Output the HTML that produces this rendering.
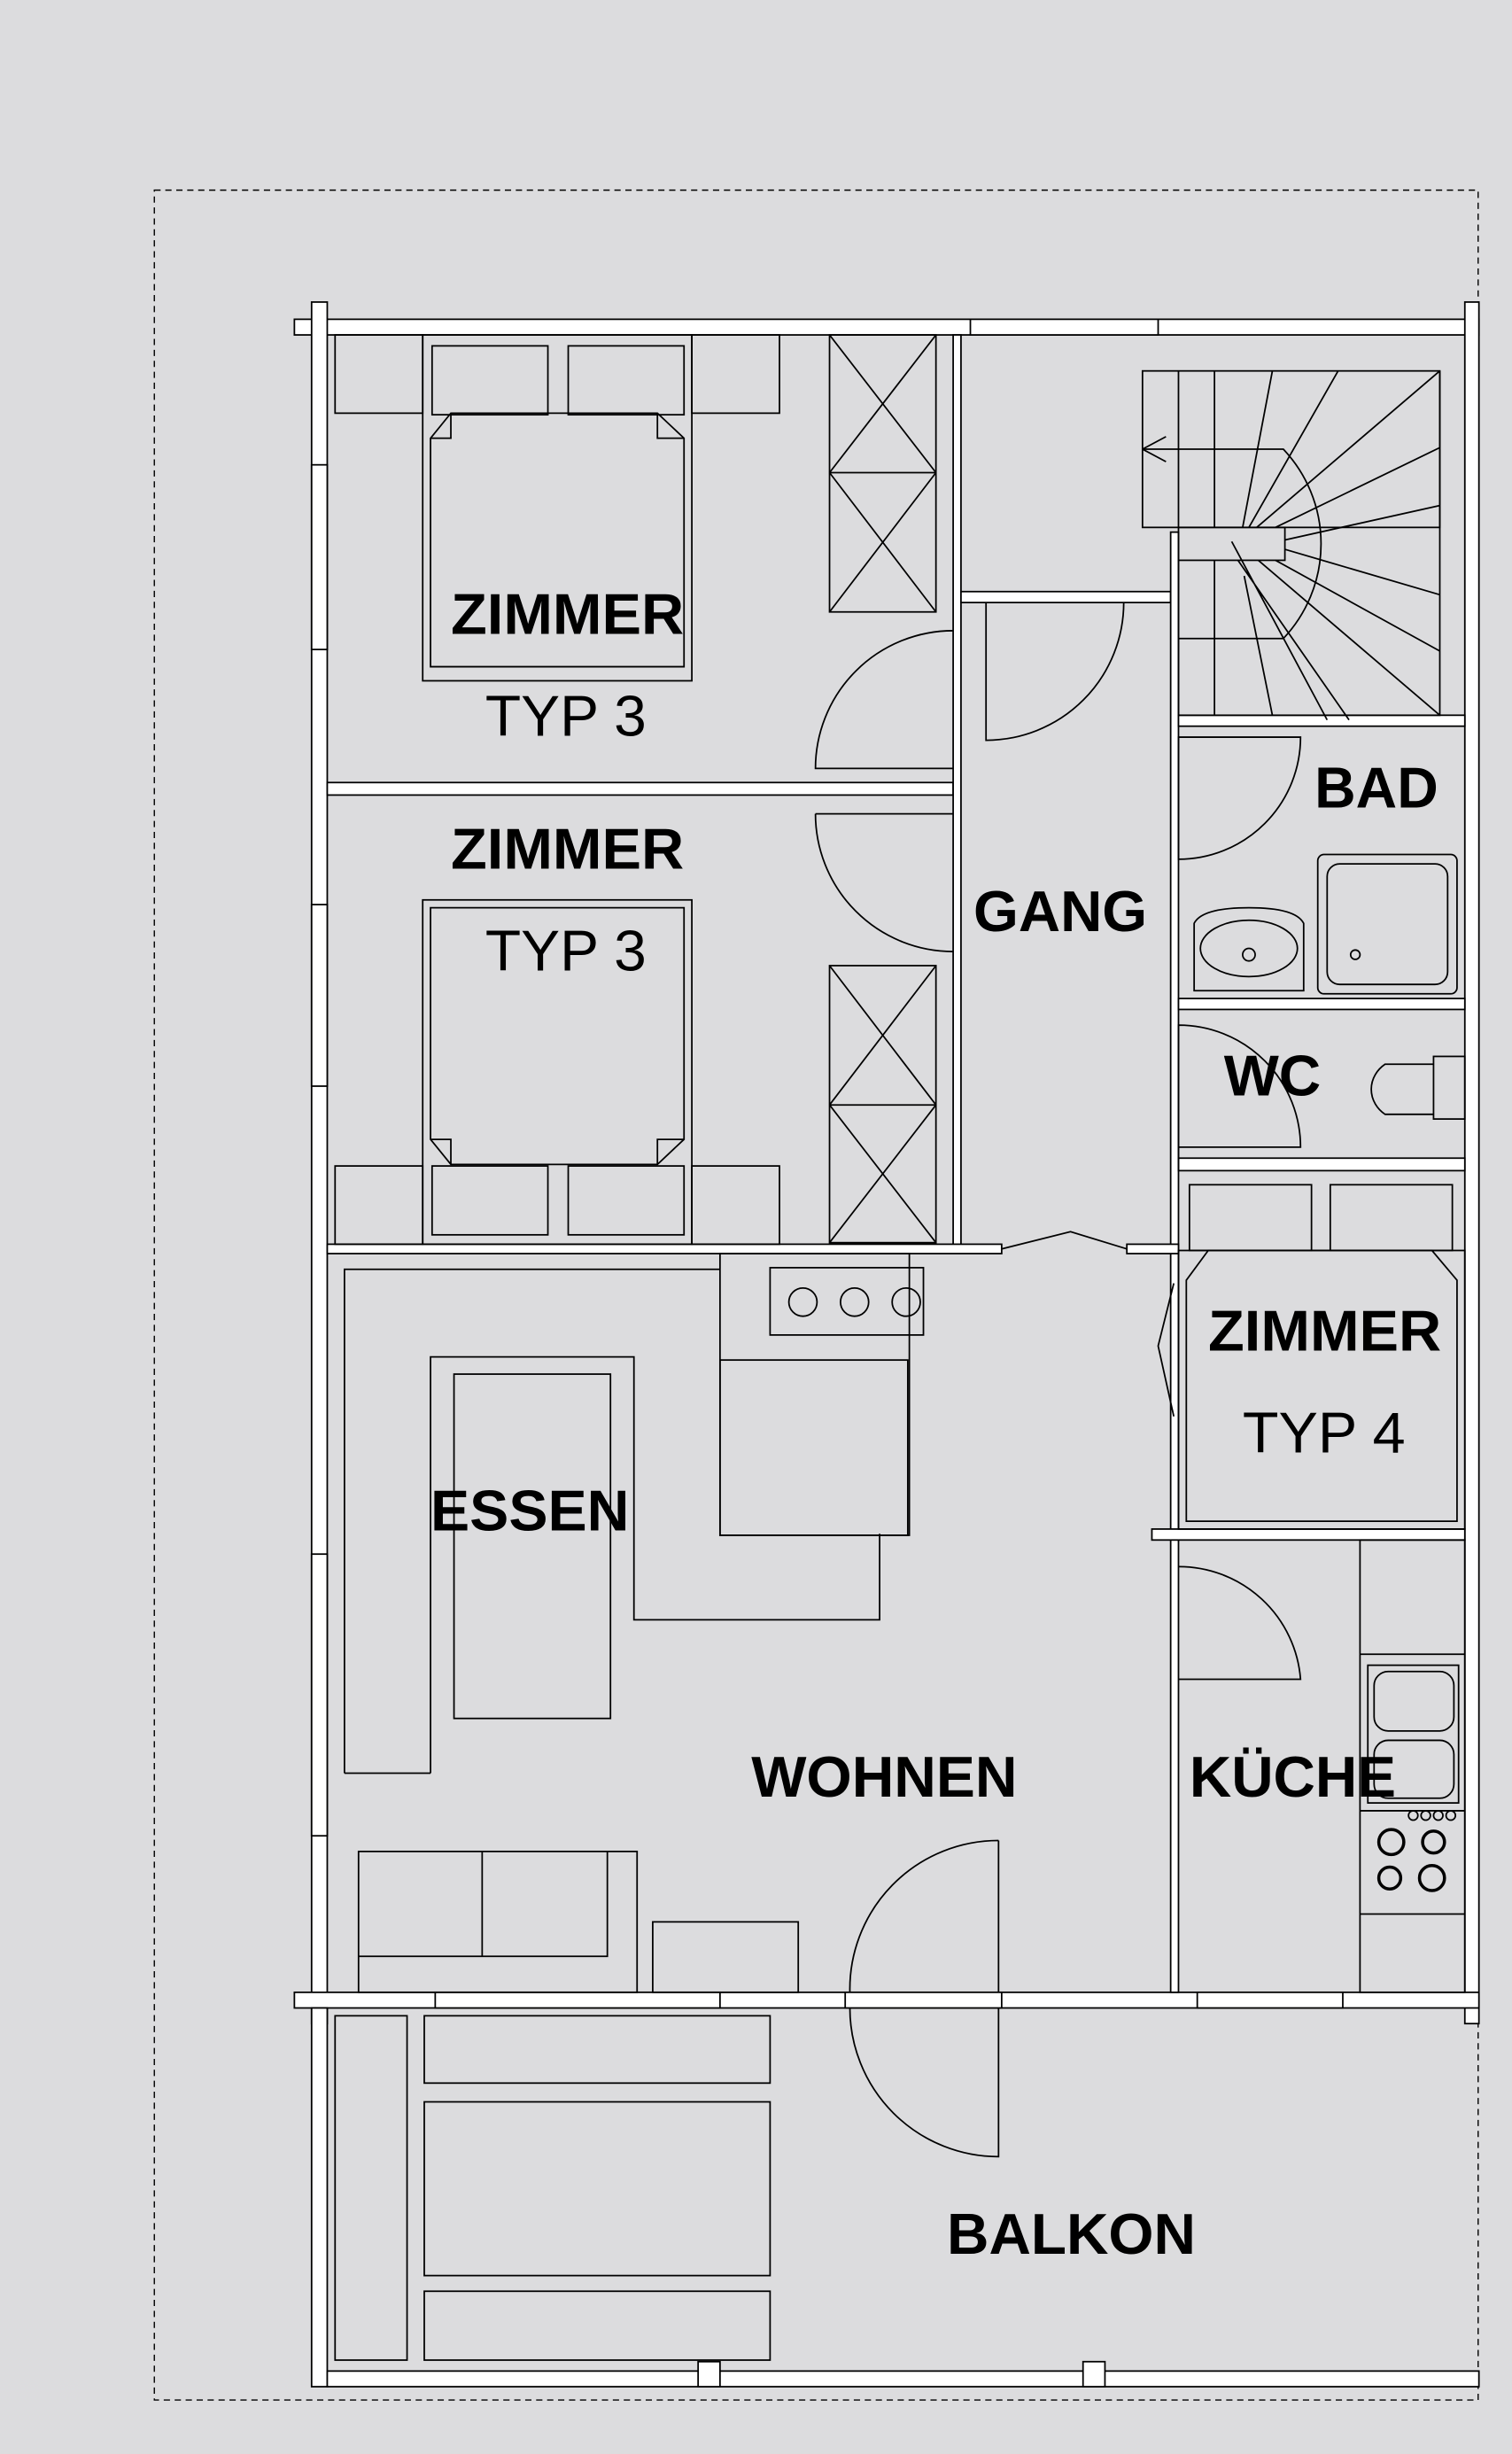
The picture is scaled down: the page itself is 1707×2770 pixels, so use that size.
<!DOCTYPE html>
<html><head><meta charset="utf-8"><style>
html,body{margin:0;padding:0;background:#dcdcde}
svg{display:block}
text{font-family:"Liberation Sans",Arial,sans-serif;fill:#000}
.b{font-weight:bold;font-size:37px}
.r{font-size:37px}
</style></head><body>
<svg width="1707" height="2770" viewBox="0 0 966 1568" xmlns="http://www.w3.org/2000/svg">
<rect width="966" height="1568" fill="#dcdcde"/>
<rect x="98.5" y="121.5" width="846" height="1412" fill="none" stroke="#000" stroke-width="0.8" stroke-dasharray="4,3"/>
<g fill="#fff" stroke="#000" stroke-width="1">
<rect x="188" y="204" width="757" height="10"/>
<rect x="199" y="193" width="10" height="1100"/>
<rect x="936" y="193" width="9" height="1100"/>
<rect x="188" y="1273" width="757" height="10"/>
<rect x="199" y="1283" width="10" height="242"/>
<rect x="209" y="1515" width="736" height="10"/>
<rect x="209" y="500" width="400" height="8"/>
<rect x="609" y="214" width="5" height="586"/>
<rect x="614" y="378" width="134" height="7"/>
<rect x="748" y="340" width="5" height="933"/>
<rect x="753" y="457" width="183" height="7"/>
<rect x="753" y="638" width="183" height="7"/>
<rect x="753" y="740" width="183" height="8"/>
<rect x="209" y="795" width="431" height="6"/>
<rect x="720" y="795" width="33" height="6"/>
<rect x="736" y="977" width="200" height="7"/>
<rect x="199" y="297" width="10" height="118"/>
<rect x="199" y="578" width="10" height="116"/>
<rect x="199" y="993" width="10" height="180"/>
<rect x="620" y="204" width="120" height="10"/>
<rect x="278" y="1273" width="182" height="10"/>
<rect x="540" y="1273" width="100" height="10"/>
<rect x="765" y="1273" width="93" height="10"/>
<rect x="446" y="1509" width="14" height="16"/>
<rect x="692" y="1509" width="14" height="16"/>
</g>
<g fill="none" stroke="#000" stroke-width="1">
<rect x="214" y="214" width="56" height="50"/>
<rect x="442" y="214" width="56" height="50"/>
<rect x="270" y="214" width="172" height="221"/>
<rect x="276" y="221" width="74" height="44"/>
<rect x="363" y="221" width="74" height="44"/>
<path d="M275 426 V280 L288 264 H420 L437 280 V426 Z M288 264 V280 H275 M420 264 V280 H437"/>
<rect x="530" y="214" width="68" height="177"/>
<path d="M530 214 L598 302 M598 214 L530 302 M530 302 H598 M530 302 L598 391 M598 302 L530 391"/>
<path d="M609 403 A88 88 0 0 0 521 491 H609"/>
<rect x="214" y="745" width="56" height="50"/>
<rect x="442" y="745" width="56" height="50"/>
<rect x="270" y="575" width="172" height="220"/>
<rect x="276" y="745" width="74" height="44"/>
<rect x="363" y="745" width="74" height="44"/>
<path d="M275 580 V728 L288 744 H420 L437 728 V580 Z M288 744 V728 H275 M420 744 V728 H437"/>
<rect x="530" y="617" width="68" height="177"/>
<path d="M530 617 L598 706 M598 617 L530 706 M530 706 H598 M530 706 L598 794 M598 706 L530 794"/>
<path d="M521 520 A88 88 0 0 0 609 608 M521 520 H609"/>
<path d="M718 385 A88 88 0 0 1 630 473 V385"/>
<path d="M640 798 L684 787 L720 798"/>
<path d="M750 820 L740 860 L750 905"/>
<rect x="730" y="237" width="190" height="100"/>
<path d="M753 237 V337 M776 237 V337 M753 358 V457 H920 V337 M776 358 V457 M920 237 V457"/>
<rect x="753" y="337" width="68" height="21"/>
<path d="M730 287 H820 A88 88 0 0 1 820 408 H753"/>
<path d="M730 287 L745 279 M730 287 L745 295"/>
<path d="M794 337 L813 237 M798 337 L855 237 M803 337 L920 237 M815 337 L920 286 M821 345 L920 323 M821 351 L920 380 M815 358 L920 416 M804 358 L920 457 M791 358 L862 460 M787 346 L848 460 M795 368 L813 457"/>
<path d="M753 471 H831 A78 78 0 0 1 753 549 Z"/>
<rect x="842" y="546" width="89" height="89" rx="4"/>
<rect x="848" y="552" width="77" height="77" rx="8"/>
<circle cx="866" cy="610" r="3"/>
<path d="M763 590 Q768 580 798 580 Q828 580 833 590 V633 H763 Z"/>
<ellipse cx="798" cy="606" rx="31" ry="18"/>
<circle cx="798" cy="610" r="4"/>
<path d="M753 748 V655 A78 78 0 0 1 831 733 H753"/>
<rect x="916" y="675" width="20" height="40"/>
<path d="M916 680 H885 A22 20 0 0 0 885 712 H916"/>
<rect x="760" y="757" width="78" height="42"/>
<rect x="850" y="757" width="78" height="42"/>
<rect x="753" y="799" width="183" height="178"/>
<path d="M758 972 V818 L772 799 H915 L931 818 V972 Z"/>
<path d="M753 1001 A78 78 0 0 1 831 1073 H753"/>
<rect x="869" y="984" width="67" height="289"/>
<path d="M869 1057 H936 M869 1157 H936 M869 1223 H936"/>
<rect x="874" y="1064" width="58" height="88"/>
<rect x="878" y="1068" width="51" height="38" rx="9"/>
<rect x="878" y="1112" width="51" height="37" rx="9"/>
<circle cx="903" cy="1160" r="3"/><circle cx="911" cy="1160" r="3"/><circle cx="919" cy="1160" r="3"/><circle cx="927" cy="1160" r="3"/>
<circle cx="889" cy="1177" r="8" stroke-width="2"/><circle cx="916" cy="1177" r="7" stroke-width="2"/>
<circle cx="888" cy="1200" r="7" stroke-width="2"/><circle cx="915" cy="1200" r="8" stroke-width="2"/>
<path d="M220 1133 V811 H460 M275 1133 V867 H405 V1035 H562 V980"/>
<path d="M220 1133 H275"/>
<rect x="290" y="878" width="100" height="220"/>
<rect x="460" y="801" width="121" height="180"/>
<rect x="492" y="810" width="98" height="43"/>
<circle cx="513" cy="832" r="9"/><circle cx="546" cy="832" r="9"/><circle cx="579" cy="832" r="9"/>
<rect x="460" y="869" width="120" height="112"/>
<rect x="229" y="1183" width="178" height="90"/>
<path d="M229 1250 H388 V1183 M308 1183 V1250"/>
<rect x="417" y="1228" width="93" height="45"/>
<path d="M638 1176 A95 95 0 0 0 543 1273"/>
<path d="M638 1176 V1273"/>
<path d="M543 1283 A95 95 0 0 0 638 1378 V1283"/>
<rect x="214" y="1288" width="46" height="220"/>
<rect x="271" y="1288" width="221" height="43"/>
<rect x="271" y="1343" width="221" height="111"/>
<rect x="271" y="1464" width="221" height="44"/>
</g>
<text class="b" x="288" y="405" textLength="149" lengthAdjust="spacingAndGlyphs">ZIMMER</text>
<text class="r" x="310" y="470" textLength="103" lengthAdjust="spacingAndGlyphs">TYP 3</text>
<text class="b" x="288" y="555" textLength="149" lengthAdjust="spacingAndGlyphs">ZIMMER</text>
<text class="r" x="310" y="620" textLength="103" lengthAdjust="spacingAndGlyphs">TYP 3</text>
<text class="b" x="622" y="595" textLength="111" lengthAdjust="spacingAndGlyphs">GANG</text>
<text class="b" x="840" y="516" textLength="79" lengthAdjust="spacingAndGlyphs">BAD</text>
<text class="b" x="782" y="700" textLength="62" lengthAdjust="spacingAndGlyphs">WC</text>
<text class="b" x="772" y="863" textLength="149" lengthAdjust="spacingAndGlyphs">ZIMMER</text>
<text class="r" x="794" y="928" textLength="104" lengthAdjust="spacingAndGlyphs">TYP 4</text>
<text class="b" x="275" y="978" textLength="127" lengthAdjust="spacingAndGlyphs">ESSEN</text>
<text class="b" x="480" y="1148" textLength="170" lengthAdjust="spacingAndGlyphs">WOHNEN</text>
<text class="b" x="760" y="1148" textLength="132" lengthAdjust="spacingAndGlyphs">KÜCHE</text>
<text class="b" x="605" y="1440" textLength="159" lengthAdjust="spacingAndGlyphs">BALKON</text>
</svg>
</body></html>
